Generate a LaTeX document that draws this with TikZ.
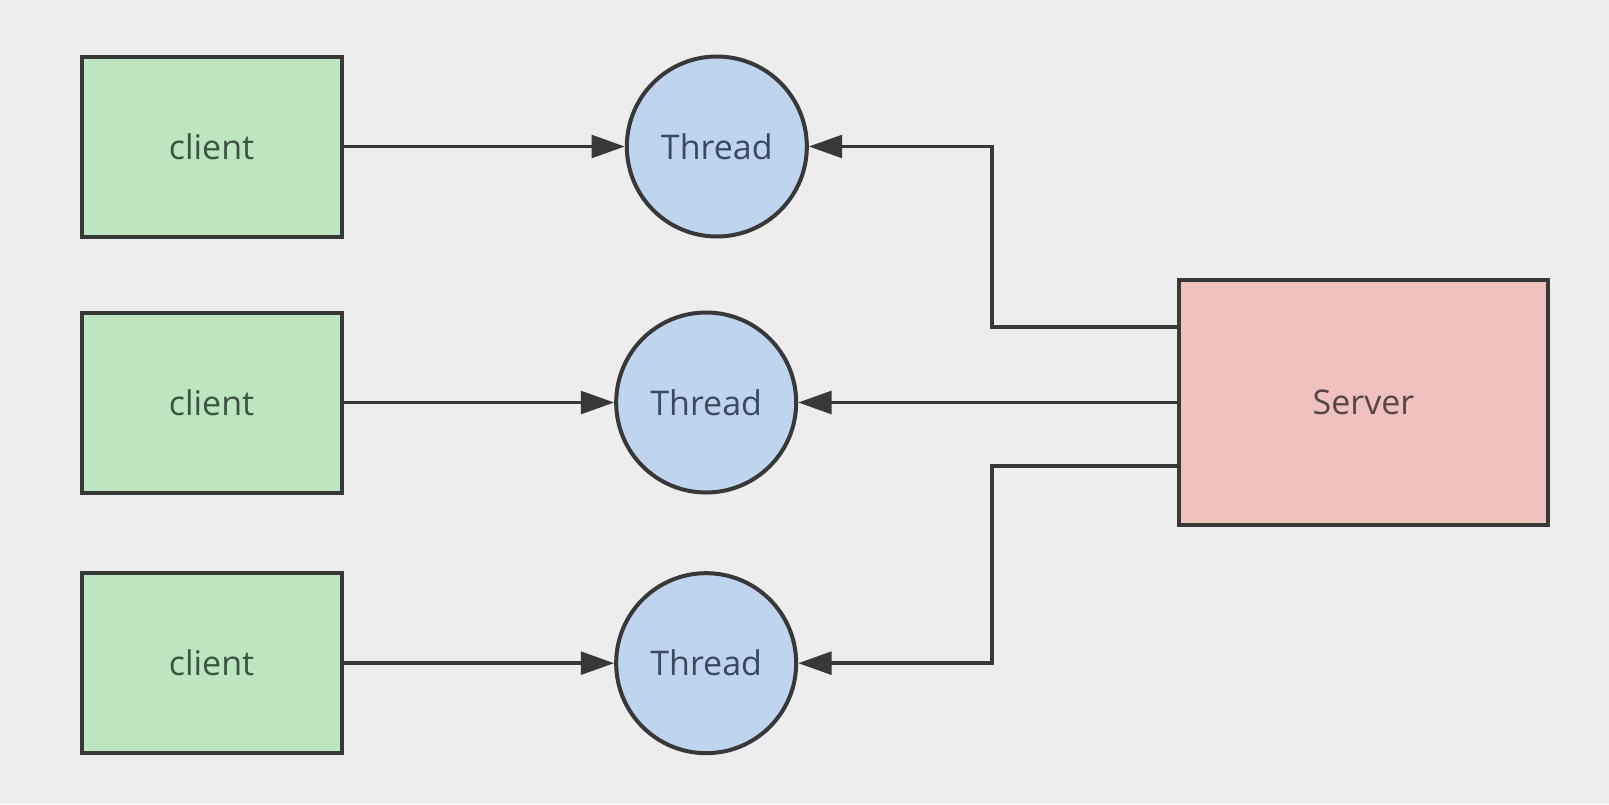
\documentclass[tikz,border=0pt]{standalone}
\usepackage{fontspec}
\setmainfont{Open Sans}
\usetikzlibrary{positioning,arrows.meta,calc}

\definecolor{bgcol}{HTML}{EDEDED}
\definecolor{linecol}{HTML}{383838}
\definecolor{clientfill}{HTML}{BDE5BF}
\definecolor{threadfill}{HTML}{BFD4EE}
\definecolor{serverfill}{HTML}{F0C2BE}
\definecolor{clienttext}{HTML}{3E5443}
\definecolor{threadtext}{HTML}{3C4A5C}
\definecolor{servertext}{HTML}{574646}

\begin{document}
\begin{tikzpicture}[
	x=0.75pt, y=-0.75pt,
	font=\fontsize{25.5}{29}\selectfont,
	client/.style={
		draw=linecol,
		line width=3pt,
		fill=clientfill,
		text=clienttext,
		minimum width=195pt,
		minimum height=135pt,
		inner sep=0pt,
	},
	thread/.style={
		circle,
		draw=linecol,
		line width=3pt,
		fill=threadfill,
		text=threadtext,
		minimum size=135pt,
		inner sep=0pt,
	},
	server/.style={
		draw=linecol,
		line width=3pt,
		fill=serverfill,
		text=servertext,
		minimum width=277pt,
		minimum height=184pt,
		inner sep=0pt,
	},
	arr/.style={-{Triangle[length=25pt,width=17pt]}, line width=2.7pt, draw=linecol},
]

% --- Hintergrund und Rahmen ---
\fill[bgcol] (0,0) rectangle (1609,804);
\useasboundingbox (0,0) rectangle (1609,804);

% --- Clients (links) ---
\node[client] (c1) at (211.5,146.5) {client};
\node[client, below=54pt of c1] (c2) {client};
\node[client, below=57.5pt of c2] (c3) {client};

% --- Threads ---
\node[thread, right=211pt of c1] (t1) {Thread};
\node[thread, right=203pt of c2] (t2) {Thread};
\node[thread, right=203pt of c3] (t3) {Thread};

% --- Server (rechts) ---
\node[server, right=284pt of t2] (srv) {Server};

% --- Pfeile client -> Thread ---
\draw[arr] (c1) -- (t1);
\draw[arr] (c2) -- (t2);
\draw[arr] (c3) -- (t3);

% --- Pfeile Server -> Thread ---
\coordinate (kneeTop) at ($(srv.west)+(-185,-75.5)$);
\coordinate (kneeBot) at ($(srv.west)+(-185,63.5)$);
\draw[arr] (kneeTop -| srv.west) -- (kneeTop) -- (kneeTop |- t1) -- (t1);
\draw[arr] (srv) -- (t2);
\draw[arr] (kneeBot -| srv.west) -- (kneeBot) -- (kneeBot |- t3) -- (t3);

\end{tikzpicture}
\end{document}
